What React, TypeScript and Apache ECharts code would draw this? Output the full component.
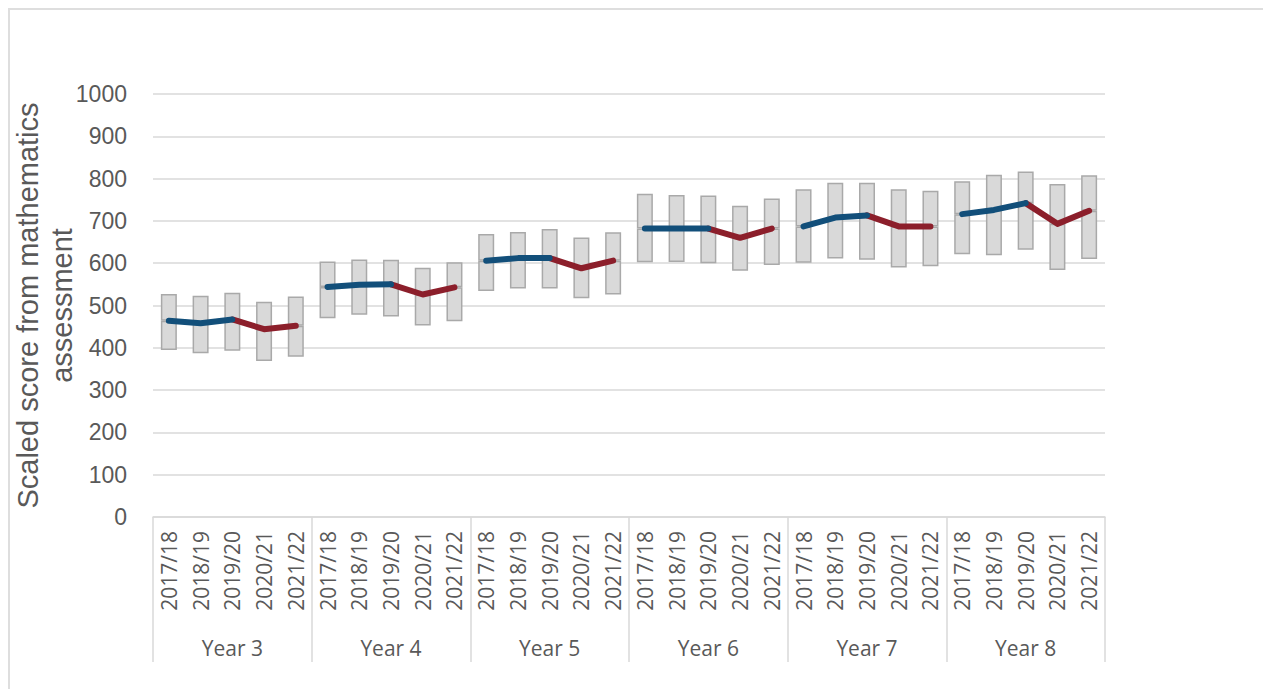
import React, { useEffect, useRef } from "react";
import * as echarts from "echarts";

// Year groups and school years shown under each group
const yearGroups = ["Year 3", "Year 4", "Year 5", "Year 6", "Year 7", "Year 8"];
const schoolYears = ["2017/18", "2018/19", "2019/20", "2020/21", "2021/22"];

// Lower end of the score range, per year group (one value per school year)
const lowY3 = [395, 387, 393, 369, 379];
const lowY4 = [470, 478, 474, 453, 463];
const lowY5 = [534, 540, 540, 517, 526];
const lowY6 = [602, 603, 600, 582, 596];
const lowY7 = [601, 611, 608, 590, 593];
const lowY8 = [621, 619, 632, 584, 610];

// Average scaled score
const meanY3 = [464, 458, 467, 444, 452];
const meanY4 = [544, 549, 550, 526, 543];
const meanY5 = [606, 612, 612, 588, 606];
const meanY6 = [682, 682, 682, 660, 682];
const meanY7 = [687, 708, 713, 687, 687];
const meanY8 = [716, 726, 742, 693, 724];

// Upper end of the score range
const highY3 = [527, 523, 530, 509, 521];
const highY4 = [604, 609, 608, 589, 602];
const highY5 = [669, 674, 681, 661, 673];
const highY6 = [764, 761, 760, 736, 753];
const highY7 = [775, 790, 790, 775, 771];
const highY8 = [794, 809, 817, 787, 808];

const yTicks = { min: 0, max: 1000, interval: 100 };

const lows = [lowY3, lowY4, lowY5, lowY6, lowY7, lowY8];
const means = [meanY3, meanY4, meanY5, meanY6, meanY7, meanY8];
const highs = [highY3, highY4, highY5, highY6, highY7, highY8];

export default function App() {
  const ref = useRef<HTMLDivElement>(null);

  useEffect(() => {
    if (!ref.current) return;
    const chart = echarts.init(ref.current, null, { renderer: "svg" });

    const categories: string[] = [];
    const base: number[] = [];
    const lowerPart: number[] = [];
    const upperPart: number[] = [];
    const pre: (number | null)[] = [];
    const post: (number | null)[] = [];

    yearGroups.forEach((_, g) => {
      schoolYears.forEach((sy, i) => {
        categories.push(sy);
        const lo = lows[g][i];
        const m = means[g][i];
        const hi = highs[g][i];
        base.push(lo);
        lowerPart.push(m - lo);
        upperPart.push(hi - m);
        pre.push(i <= 2 ? m : null);
        post.push(i >= 2 ? m : null);
      });
    });

    const grey = "#595959";
    const gridGrey = "#d9d9d9";
    const barStyle = {
      color: "#d9d9d9",
      borderColor: "#a9a9a9",
      borderWidth: 1.5,
    };

    chart.setOption({
      animation: false,
      backgroundColor: "#ffffff",
      grid: {
        left: 143,
        top: 84,
        right: 158,
        bottom: 172,
        containLabel: false,
        outerBoundsMode: "none",
      },
      xAxis: [
        {
          type: "category",
          data: categories,
          position: "bottom",
          axisLine: { show: true, lineStyle: { color: gridGrey, width: 1.5 } },
          axisTick: { show: false },
          axisLabel: {
            interval: 0,
            rotate: 90,
            margin: 14,
            color: grey,
            fontFamily: "Open Sans",
            fontSize: 21,
          },
        },
        {
          type: "category",
          data: yearGroups,
          position: "bottom",
          axisLine: { show: false },
          axisTick: {
            show: true,
            length: 145,
            lineStyle: { color: gridGrey, width: 1.5 },
          },
          axisLabel: {
            interval: 0,
            margin: 120,
            color: grey,
            fontFamily: "Open Sans",
            fontSize: 21,
          },
          splitLine: { show: false },
        },
      ],
      yAxis: {
        type: "value",
        min: yTicks.min,
        max: yTicks.max,
        interval: yTicks.interval,
        name: "Scaled score from mathematics\nassessment",
        nameLocation: "middle",
        nameGap: 74,
        nameMoveOverlap: false,
        nameTextStyle: {
          color: grey,
          fontFamily: "Liberation Sans",
          fontSize: 29,
          lineHeight: 34,
        },
        axisLine: { show: false },
        axisTick: { show: false },
        axisLabel: {
          margin: 26,
          color: grey,
          fontFamily: "Liberation Sans",
          fontSize: 23,
          formatter: (v: number) => String(v),
        },
        splitLine: { lineStyle: { color: gridGrey, width: 1.5 } },
      },
      series: [
        {
          type: "bar",
          stack: "range",
          data: base,
          barWidth: 16,
          itemStyle: { color: "transparent", borderWidth: 0 },
          silent: true,
        },
        {
          type: "bar",
          stack: "range",
          data: lowerPart,
          barWidth: 16,
          itemStyle: barStyle,
        },
        {
          type: "bar",
          stack: "range",
          data: upperPart,
          barWidth: 16,
          itemStyle: barStyle,
        },
        {
          type: "line",
          data: pre,
          symbol: "none",
          connectNulls: false,
          z: 5,
          lineStyle: { color: "#124f7a", width: 6, cap: "round", join: "round" },
        },
        {
          type: "line",
          data: post,
          symbol: "none",
          connectNulls: false,
          z: 4,
          lineStyle: { color: "#8c1f2b", width: 6, cap: "round", join: "round" },
        },
      ],
    });

    return () => chart.dispose();
  }, []);

  return (
    <div
      style={{
        width: 1255,
        height: 681,
        boxSizing: "border-box",
        borderTop: "2px solid #dedede",
        borderLeft: "2px solid #dedede",
      }}
    >
      <div ref={ref} style={{ width: "100%", height: "100%" }} />
    </div>
  );
}
